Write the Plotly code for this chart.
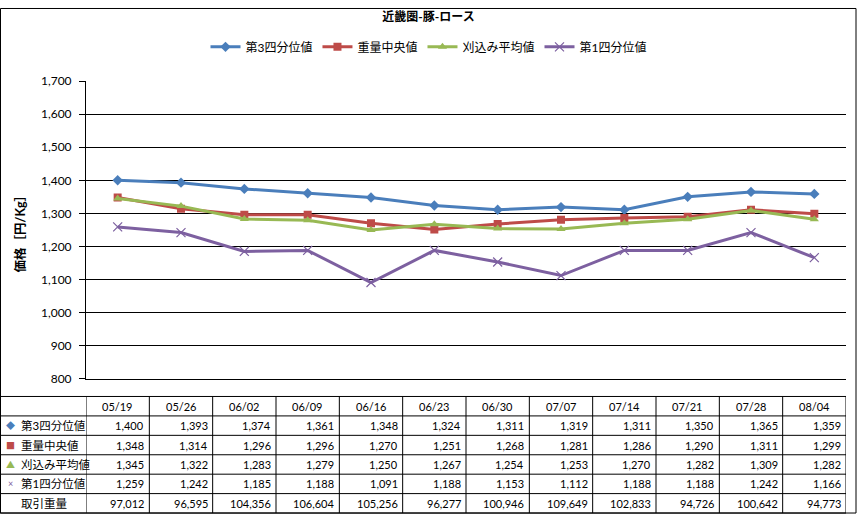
import plotly.graph_objects as go

# weekly prices, Kinki region pork loin (yen/kg)
weeks = ["05/19", "05/26", "06/02", "06/09", "06/16", "06/23",
         "06/30", "07/07", "07/14", "07/21", "07/28", "08/04"]
q3 = [1400, 1393, 1374, 1361, 1348, 1324, 1311, 1319, 1311, 1350, 1365, 1359]
median = [1348, 1314, 1296, 1296, 1270, 1251, 1268, 1281, 1286, 1290, 1311, 1299]
trimmed = [1345, 1322, 1283, 1279, 1250, 1267, 1254, 1253, 1270, 1282, 1309, 1282]
q1 = [1259, 1242, 1185, 1188, 1091, 1188, 1153, 1112, 1188, 1188, 1242, 1166]
volume = [97012, 96595, 104356, 106604, 105256, 96277,
          100946, 109649, 102833, 94726, 100642, 94773]

names = ["第3四分位値", "重量中央値", "刈込み平均値", "第1四分位値"]
colors = ["#4A7EBB", "#BE4B48", "#98B954", "#7D60A0"]
symbols = ["diamond", "square", "triangle-up", "x-thin"]
glyphs = ["◆", "■", "▲", "×"]
volume_label = "取引重量"

W, H = 857, 521
FONT = "Lato, 'Noto Sans CJK JP', sans-serif"


def fx(p):
    return p / W


def fy(p):
    return 1 - p / H


fig = go.Figure()

for name, vals, col, sym in zip(names, [q3, median, trimmed, q1], colors, symbols):
    marker = dict(symbol=sym, size=8, color=col)
    if sym == "x-thin":
        marker["line"] = dict(color=col, width=1.2)
        marker["size"] = 9
    fig.add_trace(go.Scatter(
        x=weeks, y=vals, name=name, mode="lines+markers",
        line=dict(color=col, width=3), marker=marker,
    ))

shapes = []
annotations = []

# data table below the plot
row_tops = [400, 420, 440, 460, 480, 500, 520]
for yp in row_tops:
    shapes.append(dict(type="line", xref="paper", yref="paper",
                       x0=0, x1=fx(846), y0=fy(yp), y1=fy(yp),
                       line=dict(color="black", width=1)))
for i in range(len(weeks) + 1):
    shapes.append(dict(type="line", xref="x", yref="paper",
                       x0=i - 0.5, x1=i - 0.5, y0=fy(400), y1=fy(520),
                       line=dict(color="black", width=1)))

for i, w in enumerate(weeks):
    annotations.append(dict(x=i, xref="x", y=fy(410), yref="paper",
                            text=w, showarrow=False, xanchor="center",
                            yanchor="middle",
                            font=dict(size=11, color="black")))

rows = [q3, median, trimmed, q1, volume]
labels = names + [volume_label]
for r, vals in enumerate(rows):
    yc = fy(430 + 20 * r)
    for i, v in enumerate(vals):
        annotations.append(dict(x=i + 0.5, xref="x", y=yc, yref="paper",
                                text=f"{v:,}", showarrow=False,
                                xanchor="right", yanchor="middle", xshift=-3,
                                font=dict(size=11, color="black")))
    annotations.append(dict(x=fx(19), xref="paper", y=yc, yref="paper",
                            text=labels[r], showarrow=False, xanchor="left",
                            yanchor="middle",
                            font=dict(size=11.5, color="black")))
    if r < 4:
        annotations.append(dict(x=fx(10), xref="paper", y=yc, yref="paper",
                                text=glyphs[r], showarrow=False,
                                xanchor="center", yanchor="middle",
                                font=dict(size=9, color=colors[r])))

# y axis title
annotations.append(dict(x=fx(20), xref="paper", y=fy(229), yref="paper",
                        text="<b>価格［円/Kg］</b>", textangle=-90,
                        xanchor="center", yanchor="middle",
                        showarrow=False, font=dict(size=12.5, color="black")))

# outer frame
shapes.append(dict(type="rect", xref="paper", yref="paper",
                   x0=fx(0.5), x1=fx(856), y0=fy(520), y1=fy(0.5),
                   line=dict(color="black", width=1)))

fig.update_layout(
    width=W, height=H,
    margin=dict(l=0, r=0, t=0, b=0),
    paper_bgcolor="white", plot_bgcolor="white",
    font=dict(family=FONT, color="black"),
    title=dict(text="<b>近畿圏-豚-ロース</b>", x=0.5, xanchor="center",
               y=fy(17), yanchor="middle", font=dict(size=12)),
    legend=dict(orientation="h", x=0.5, xanchor="center", y=fy(40),
                yanchor="middle", font=dict(size=12), itemwidth=30),
    xaxis=dict(type="category", range=[-0.5, len(weeks) - 0.5],
               domain=[fx(86), fx(846)], showticklabels=False,
               showgrid=False, zeroline=False, showline=True,
               linecolor="black", linewidth=1, ticks=""),
    yaxis=dict(range=[800, 1700], dtick=100, tickformat=",",
               domain=[fy(381.7), fy(75.3)], showgrid=True,
               gridcolor="black", gridwidth=1, zeroline=False,
               showline=True, linecolor="black", linewidth=1,
               ticks="outside", ticklen=6, tickcolor="black",
               ticklabelstandoff=5, tickfont=dict(size=12)),
    shapes=shapes,
    annotations=annotations,
    showlegend=True,
)

# page has a default 8px body margin; drop it so the chart fills the window
fig.write_html("out.html", config={"displayModeBar": False},
               post_script="document.body.style.margin='0';"
                           "document.body.style.overflow='hidden';")
